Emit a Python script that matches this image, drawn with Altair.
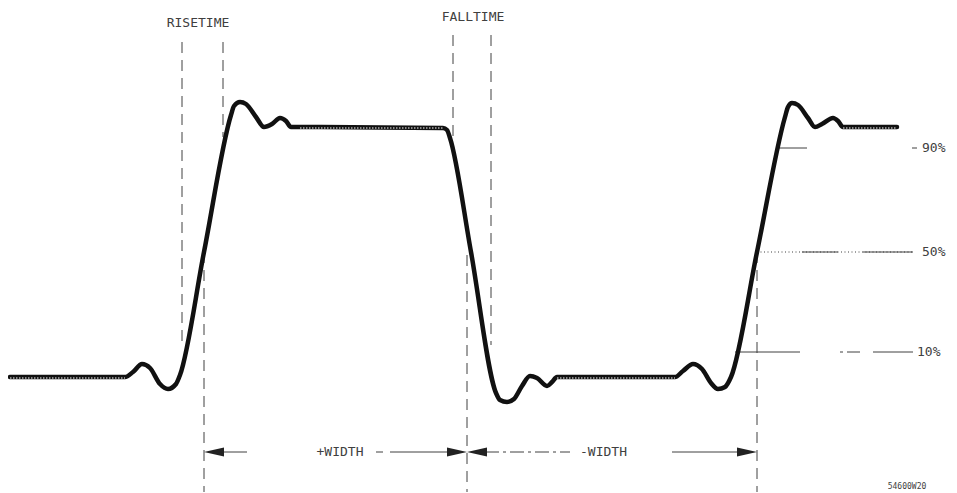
import altair as alt
import pandas as pd

# ---- waveform readings: time (arbitrary units) vs amplitude (% of pulse height)
wave_t = [0.2, 11.7, 12.5, 13.4, 14.2, 15.2, 16.0, 16.8, 17.2, 19.6, 22.3, 22.6, 23.2, 23.8,
          24.8, 25.6, 26.4, 27.2, 27.8, 28.3, 29.2, 43.5, 43.9, 44.2, 46.3, 48.8, 49.2, 49.9,
          50.6, 51.4, 52.2, 52.9, 53.9, 54.4, 54.9, 66.7, 67.5, 68.5, 69.4, 70.3, 71.0, 71.7,
          72.3, 74.9, 77.7, 78.0, 78.4, 79.0, 80.0, 80.7, 81.4, 82.5, 83.0, 83.5, 88.9]
wave_p = [0, 0, 2, 5.2, 3.6, -2.8, -4.8, -2.8, 0.8, 50, 104.8, 108.4, 110, 109.2,
          104, 100, 101.2, 103.6, 102.4, 100, 100, 99.6, 98.8, 95.6, 50, -6.4, -9.2, -10,
          -8.8, -3.6, 0.4, -0.4, -3.6, -2, 0, 0, 2.4, 5.2, 3.2, -2.4, -4.8, -4,
          0, 50, 104, 108, 109.6, 108.8, 103.6, 100, 101.2, 103.6, 102.4, 100, 100]

# settled (flat) stretches of the trace
flat_t1 = [0.2, 29.2, 54.9, 83.5]
flat_t2 = [11.7, 43.5, 66.7, 88.9]
flat_p = [0, 100, 0, 100]

# vertical dashed marker lines
vmark_t = [17.4, 21.5, 19.6, 44.5, 48.3, 45.9, 74.9]
vmark_top = [134, 134, 50, 136.8, 136.8, 48.8, 50]
vmark_bot = [12, 96, -46, 94.8, 12.8, -46, -46]

# reference level lines
lvl_solid_t1 = [77.0, 90.4, 79.4, 85.5, 72.7, 83.9, 86.5, 83.2]
lvl_solid_t2 = [79.9, 90.9, 83.0, 90.5, 79.2, 85.2, 90.5, 83.5]
lvl_solid_p = [91.6, 91.6, 50, 50, 10, 10, 10, 10]
lvl_dot_t1 = [74.9]
lvl_dot_t2 = [90.5]
lvl_dot_p = [50]
lvl_labels = ["90%", "50%", "10%"]
lvl_label_t = [91.4, 91.4, 90.9]
lvl_label_p = [91.6, 50, 10]

# width arrows
arrow_p = -30
shaft_t1 = [21.4, 36.8, 38.2, 66.4]
shaft_t2 = [23.9, 37.5, 44.0, 73.0]
shaft_dd_t1 = [47.7]
shaft_dd_t2 = [56.2]
head_left_t = [19.6, 45.9]
head_right_t = [45.9, 74.9]

# text annotations
ann_text = ["RISETIME", "FALLTIME", "+WIDTH"]
ann_t = [19.0, 46.5, 33.2]
ann_p = [141.6, 144, -30]
wid2_text = ["-WIDTH"]
wid2_t = [57.2]
code_text = ["54600W20"]
code_t = [89.9]
code_p = [-44]

FONT = "DejaVu Sans Mono"
INK = "#111111"
THIN = "#404040"

xs = alt.Scale(domain=[0, 94.1], nice=False, zero=False)
ys = alt.Scale(domain=[-46.4, 147.6], nice=False, zero=False)


def X(f):
    return alt.X(f, type="quantitative", scale=xs, axis=None)


def Y(f):
    return alt.Y(f, type="quantitative", scale=ys, axis=None)


wave_df = pd.DataFrame({"t": wave_t, "p": wave_p})
flat_df = pd.DataFrame({"t1": flat_t1, "t2": flat_t2, "p": flat_p})
vmark_df = pd.DataFrame({"t": vmark_t, "p1": vmark_top, "p2": vmark_bot})
lvl_df = pd.DataFrame({"t1": lvl_solid_t1, "t2": lvl_solid_t2, "p": lvl_solid_p})
lvl_dot_df = pd.DataFrame({"t1": lvl_dot_t1, "t2": lvl_dot_t2, "p": lvl_dot_p})
lbl_df = pd.DataFrame({"label": lvl_labels, "t": lvl_label_t, "p": lvl_label_p})
shaft_df = pd.DataFrame({"t1": shaft_t1, "t2": shaft_t2, "p": [arrow_p] * len(shaft_t1)})
shaft_dd_df = pd.DataFrame({"t1": shaft_dd_t1, "t2": shaft_dd_t2, "p": [arrow_p]})
hl_df = pd.DataFrame({"t": head_left_t, "p": [arrow_p] * len(head_left_t)})
hr_df = pd.DataFrame({"t": head_right_t, "p": [arrow_p] * len(head_right_t)})
ann_df = pd.DataFrame({"label": ann_text, "t": ann_t, "p": ann_p})
wid2_df = pd.DataFrame({"label": wid2_text, "t": wid2_t, "p": [arrow_p]})
code_df = pd.DataFrame({"label": code_text, "t": code_t, "p": code_p})

wave = alt.Chart(wave_df).mark_line(
    color=INK, strokeWidth=4.5, interpolate="monotone", strokeJoin="round", strokeCap="round"
).encode(x=X("t"), y=Y("p"))

flat = alt.Chart(flat_df).mark_rule(
    color="white", strokeWidth=1, strokeDash=[1.5, 1.5], yOffset=1
).encode(x=X("t1"), x2="t2", y=Y("p"))

vmarks = alt.Chart(vmark_df).mark_rule(
    color=THIN, strokeWidth=1, strokeDash=[11, 7]
).encode(x=X("t"), y=Y("p1"), y2="p2")

lvl = alt.Chart(lvl_df).mark_rule(color=THIN, strokeWidth=1).encode(
    x=X("t1"), x2="t2", y=Y("p"))
lvl_dot = alt.Chart(lvl_dot_df).mark_rule(color=THIN, strokeWidth=1, strokeDash=[1, 2.5]).encode(
    x=X("t1"), x2="t2", y=Y("p"))
lbl = alt.Chart(lbl_df).mark_text(
    font=FONT, fontSize=13, color=THIN, align="left", baseline="middle"
).encode(x=X("t"), y=Y("p"), text="label:N")

shaft = alt.Chart(shaft_df).mark_rule(color=THIN, strokeWidth=1).encode(
    x=X("t1"), x2="t2", y=Y("p"))
shaft_dd = alt.Chart(shaft_dd_df).mark_rule(color=THIN, strokeWidth=1, strokeDash=[14, 4, 3, 4]).encode(
    x=X("t1"), x2="t2", y=Y("p"))
head_l = alt.Chart(hl_df).mark_point(
    shape="M0,0L2,-0.45L2,0.45Z", filled=True, color="#222222", size=400, opacity=1
).encode(x=X("t"), y=Y("p"))
head_r = alt.Chart(hr_df).mark_point(
    shape="M0,0L-2,-0.45L-2,0.45Z", filled=True, color="#222222", size=400, opacity=1
).encode(x=X("t"), y=Y("p"))

ann = alt.Chart(ann_df).mark_text(
    font=FONT, fontSize=13, color=THIN, align="center", baseline="middle"
).encode(x=X("t"), y=Y("p"), text="label:N")
wid2 = alt.Chart(wid2_df).mark_text(
    font=FONT, fontSize=13, color=THIN, align="left", baseline="middle"
).encode(x=X("t"), y=Y("p"), text="label:N")
code = alt.Chart(code_df).mark_text(
    font=FONT, fontSize=8, color=THIN, align="center", baseline="middle"
).encode(x=X("t"), y=Y("p"), text="label:N")

chart = alt.layer(
    vmarks, lvl_dot, lvl, shaft, shaft_dd, head_l, head_r, wave, flat, lbl, ann, wid2, code
).properties(
    width=941, height=485, padding=0, background="white",
    autosize=alt.AutoSizeParams(type="none"),
).configure_view(stroke=None)

chart.save("out.html", embed_options={"renderer": "svg", "actions": False})
